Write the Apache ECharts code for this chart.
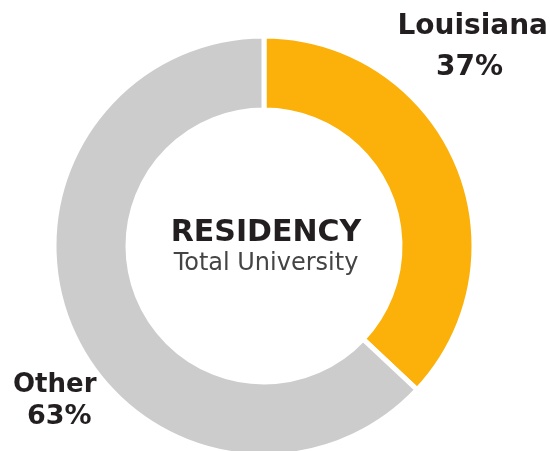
<!DOCTYPE html>
<html>
<head>
<meta charset="utf-8">
<script src="https://cdn.jsdelivr.net/npm/echarts@6/dist/echarts.min.js"></script>
<style>
  html, body { margin: 0; padding: 0; background: #fff; }
  #chart { width: 550px; height: 451px; }
</style>
</head>
<body>
<div id="chart"></div>
<script>
// residency split, total university
const categories = ['Louisiana', 'Other']
const values = [37, 63]
const colors = ['#fbb00a', '#cccccc']
const centerTitle = 'RESIDENCY'
const centerSub = 'Total University'

const fontFam = '"DejaVu Sans", sans-serif'
const dark = '#231f20'

let myChart = echarts.init(document.getElementById('chart'))
myChart.setOption({
  animation: false,
  color: colors,
  series: [{
    type: 'pie',
    center: [264, 246],
    radius: [136, 210],
    startAngle: 90,
    clockwise: true,
    label: { show: false },
    labelLine: { show: false },
    itemStyle: { borderColor: '#fff', borderWidth: 5 },
    emphasis: { disabled: true },
    data: categories.map((c, i) => ({ name: c, value: values[i] }))
  }],
  graphic: [
    {
      type: 'text', z: 100, x: 266, y: 218,
      style: { text: centerTitle, font: 'bold 30px ' + fontFam, fill: dark, align: 'center' }
    },
    {
      type: 'text', z: 100, x: 266, y: 252,
      style: { text: centerSub, font: '24px ' + fontFam, fill: '#444', align: 'center' }
    },
    {
      type: 'text', z: 100, right: 2, top: 13,
      style: { text: categories[0], font: '600 28px ' + fontFam, fill: dark }
    },
    {
      type: 'text', z: 100, left: 436, top: 54,
      style: { text: values[0] + '%', font: 'bold 28px ' + fontFam, fill: dark }
    },
    {
      type: 'text', z: 100, left: 13, top: 372,
      style: { text: categories[1], font: '600 26px ' + fontFam, fill: dark }
    },
    {
      type: 'text', z: 100, left: 27, top: 403,
      style: { text: values[1] + '%', font: 'bold 27px ' + fontFam, fill: dark }
    }
  ]
})
</script>
</body>
</html>
